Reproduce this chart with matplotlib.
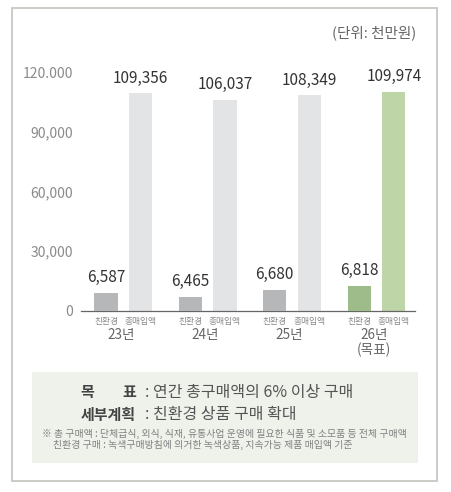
import matplotlib
matplotlib.use("Agg")
import matplotlib.pyplot as plt
from matplotlib.patches import Rectangle

plt.rcParams['font.family'] = ['Noto Sans CJK KR', 'DejaVu Sans']

# ---- data ----
years = ["23년", "24년", "25년", "26년\n(목표)"]
eco_values = [6587, 6465, 6680, 6818]          # 친환경
total_values = [109356, 106037, 108349, 109974]  # 총매입액
ytick_values = [0, 30000, 60000, 90000, 120000]
ytick_labels = ["0", "30,000", "60,000", "90,000", "120.000"]
sub_labels = ["친환경", "총매입액"]
unit_text = "(단위: 천만원)"
goal_label = ": 연간 총구매액의 6% 이상 구매"
plan_label = ": 친환경 상품 구매 확대"
note1 = "※ 총 구매액 : 단체급식, 외식, 식재, 유통사업 운영에 필요한 식품 및 소모품 등 전체 구매액"
note2 = "친환경 구매 : 녹색구매방침에 의거한 녹색상품, 지속가능 제품 매입액 기준"

W, H = 452, 492
fig = plt.figure(figsize=(W / 100, H / 100), dpi=100)
fig.patch.set_facecolor("white")

def fx(px):
    return px / W

def fy(py):
    return 1 - py / H

# outer border
fig.add_artist(Rectangle((fx(12), fy(481)), fx(437) - fx(12), fy(8) - fy(481),
                         transform=fig.transFigure, fill=False,
                         edgecolor="#c6c9c1", linewidth=1.3))
# info box
fig.add_artist(Rectangle((fx(32), fy(463)), fx(418) - fx(32), fy(372) - fy(463),
                         transform=fig.transFigure, facecolor="#eef2eb",
                         edgecolor="none"))

ax = fig.add_axes([fx(81), fy(311), fx(415) - fx(81), fy(72) - fy(311)])
ax2 = ax.twinx()

x = list(range(len(years)))
off = 0.205
bw = 0.273
big_cols = ["#e3e4e6"] * 3 + ["#bdd5a7"]
small_cols = ["#b6b7b9"] * 3 + ["#9ebb8a"]

ax.bar([i + off for i in x], total_values, width=bw, color=big_cols, zorder=2)
ax2.bar([i - off for i in x], eco_values, width=bw, color=small_cols, zorder=2)

ax.set_xlim(-0.501, 3.456)
ax.set_ylim(0, 120000)
ax2.set_ylim(6000, 13700)

for i in x:
    ax.annotate(f"{total_values[i]:,}", (i + off, total_values[i]),
                xytext=(0, 10.8), textcoords="offset points",
                ha="center", va="center", fontsize=11, color="#333333",
                weight=500, annotation_clip=False)
    ax2.annotate(f"{eco_values[i]:,}", (i - off, eco_values[i]),
                 xytext=(0, 10.8), textcoords="offset points",
                 ha="center", va="center", fontsize=11, color="#333333",
                 weight=500, annotation_clip=False)
    ax.annotate(sub_labels[0], (i - off, 0), xytext=(0, -7.5),
                textcoords="offset points", ha="center", va="center",
                fontsize=6.3, color="#8a8a8a", annotation_clip=False)
    ax.annotate(sub_labels[1], (i + off, 0), xytext=(0, -7.5),
                textcoords="offset points", ha="center", va="center",
                fontsize=6.3, color="#8a8a8a", annotation_clip=False)
    ax.annotate(years[i], (i - 0.03, 0), xytext=(0, -12.5),
                textcoords="offset points", ha="center", va="top",
                fontsize=9.8, color="#666666", linespacing=1.05,
                annotation_clip=False)

ax.set_yticks(ytick_values)
ax.set_yticklabels(ytick_labels)
ax.tick_params(axis="y", length=0, pad=6, labelsize=10, labelcolor="#8a8a8a")
ax.set_xticks([])
ax2.set_yticks([])
for a in (ax, ax2):
    for s in ("top", "right", "left"):
        a.spines[s].set_visible(False)
    a.patch.set_visible(False)
ax.spines["bottom"].set_color("#666666")
ax.spines["bottom"].set_linewidth(0.9)
ax2.spines["bottom"].set_visible(False)

# unit text
fig.text(fx(416), fy(33), unit_text, ha="right", va="center",
         fontsize=10.5, color="#666666")

# info box texts
fig.text(fx(80), fy(392), "목", ha="left", va="center", fontsize=10.8,
         color="#444444", weight="bold")
fig.text(fx(136), fy(392), "표", ha="right", va="center", fontsize=10.8,
         color="#444444", weight="bold")
fig.text(fx(145), fy(392), goal_label, ha="left", va="center", fontsize=11.5,
         color="#555555")
fig.text(fx(81), fy(415), "세부계획", ha="left", va="center", fontsize=10.8,
         color="#444444", weight="bold")
fig.text(fx(145), fy(415), plan_label, ha="left", va="center", fontsize=11.5,
         color="#555555")
fig.text(fx(42), fy(434), note1, ha="left", va="center", fontsize=7.1,
         color="#808080")
fig.text(fx(53), fy(445), note2, ha="left", va="center", fontsize=7.1,
         color="#808080")

fig.savefig("out.png", dpi=100, facecolor="white")
